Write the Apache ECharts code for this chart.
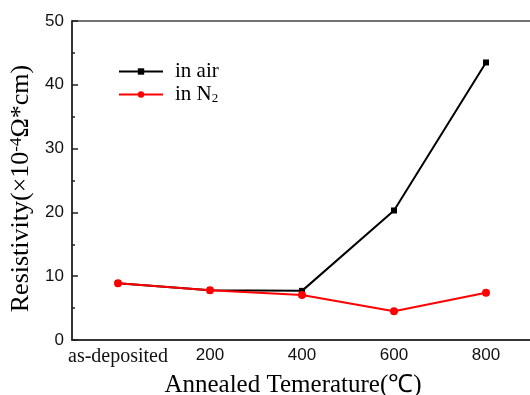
<!DOCTYPE html>
<html>
<head>
<meta charset="utf-8">
<script src="https://cdn.jsdelivr.net/npm/echarts@6/dist/echarts.min.js"></script>
<style>
  html, body { margin: 0; padding: 0; background: #fff; }
  #chart { width: 530px; height: 395px; }
</style>
</head>
<body>
<div id="chart"></div>
<script>
// annealing temperatures (categories)
const categories = ['as-deposited', '200', '400', '600', '800'];
// resistivity, x10^-4 ohm*cm
const airValues = [8.9, 7.8, 7.7, 20.3, 43.5];
const n2Values = [8.9, 7.8, 7.05, 4.5, 7.4];
const yTicks = [0, 10, 20, 30, 40, 50];

const serif = 'Liberation Serif';
const sans = 'Liberation Sans';

const chart = echarts.init(document.getElementById('chart'));

const option = {
  backgroundColor: '#fff',
  animation: false,
  grid: {
    left: 72,
    top: 21,
    width: 460,
    height: 319,
    outerBoundsMode: 'none',
    containLabel: false,
    show: true,
    borderColor: '#444',
    borderWidth: 1.5,
    backgroundColor: 'transparent'
  },
  legend: {
    orient: 'vertical',
    left: 113,
    top: 56,
    itemWidth: 44,
    itemHeight: 8,
    itemGap: 2,
    data: ['in air', 'in N2'],
    formatter: function (name) {
      return name === 'in N2' ? 'in N{sub|2}' : name;
    },
    textStyle: {
      fontFamily: serif,
      fontSize: 21,
      color: '#000',
      padding: [0, 0, 0, 7],
      rich: {
        sub: { fontFamily: serif, fontSize: 13, color: '#000', padding: [9, 0, 0, 0] }
      }
    }
  },
  xAxis: [
    {
      type: 'category',
      data: categories,
      boundaryGap: true,
      name: 'Annealed Temerature(℃)',
      nameLocation: 'middle',
      nameGap: 33,
      nameTextStyle: {
        fontFamily: serif,
        fontSize: 25,
        color: '#000',
        padding: [0, 18, 0, 0]
      },
      axisLine: { lineStyle: { color: '#222', width: 1.5 } },
      axisTick: { alignWithLabel: true, inside: true, length: 6, lineStyle: { color: '#222', width: 1.5 } },
      axisLabel: {
        interval: 0,
        hideOverlap: false,
        margin: 7,
        color: '#111',
        fontFamily: sans,
        fontSize: 17,
        formatter: function (v) {
          return v === 'as-deposited' ? '{s|' + v + '}' : v;
        },
        rich: {
          s: { fontFamily: serif, fontSize: 20, color: '#111' }
        }
      },
      splitLine: { show: false }
    },
    {
      // boundary (minor) ticks
      type: 'category',
      data: categories,
      boundaryGap: true,
      position: 'bottom',
      axisLine: { show: false },
      axisTick: { interval: 0, inside: true, length: 3, lineStyle: { color: '#222', width: 1.5 } },
      axisLabel: { show: false },
      splitLine: { show: false }
    }
  ],
  yAxis: {
    type: 'value',
    min: yTicks[0],
    max: yTicks[yTicks.length - 1],
    interval: 10,
    name: 'Resistivity(×10{sup|-4}Ω*cm)',
    nameLocation: 'middle',
    nameGap: 36,
    nameTextStyle: {
      fontFamily: serif,
      fontSize: 26,
      color: '#000',
      padding: [0, 16, 0, 0],
      rich: {
        sup: { fontFamily: serif, fontSize: 17, color: '#000', padding: [0, 0, 10, 0] }
      }
    },
    axisLine: { show: true, lineStyle: { color: '#222', width: 1.5 } },
    axisTick: { show: true, inside: true, length: 6, lineStyle: { color: '#222', width: 1.5 } },
    minorTick: { show: true, splitNumber: 2, length: 3, lineStyle: { color: '#222', width: 1.5 } },
    axisLabel: { margin: 8, color: '#111', fontFamily: sans, fontSize: 17 },
    splitLine: { show: false }
  },
  series: [
    {
      name: 'in air',
      type: 'line',
      data: airValues,
      symbol: 'rect',
      symbolSize: 6,
      color: '#000',
      lineStyle: { color: '#000', width: 2 },
      itemStyle: { color: '#000' },
      z: 2
    },
    {
      name: 'in N2',
      type: 'line',
      data: n2Values,
      symbol: 'circle',
      symbolSize: 8,
      color: '#f00',
      lineStyle: { color: '#f00', width: 2 },
      itemStyle: { color: '#f00' },
      z: 3
    }
  ]
};

chart.setOption(option);
</script>
</body>
</html>
